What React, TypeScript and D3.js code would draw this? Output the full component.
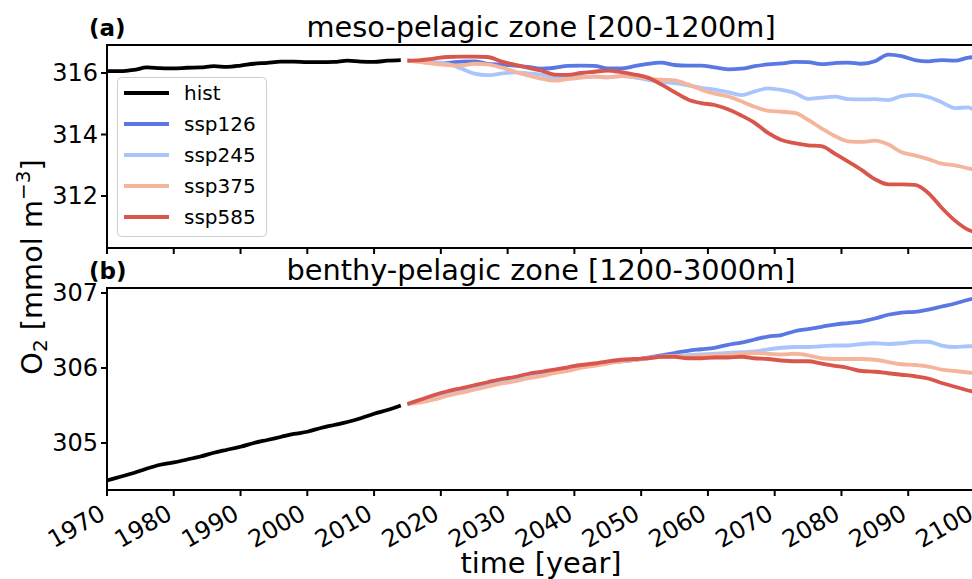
import React from "react";
import * as d3 from "d3";

const W = 972;
const H = 579;

const histYears = d3.range(1970, 2015, 2);
const scenYears = d3.range(2015, 2100, 2).concat([2100]);

const mesoHist = [316.06, 316.06, 316.10, 316.18, 316.16, 316.15, 316.17, 316.18, 316.22, 316.20, 316.24, 316.30, 316.33, 316.37, 316.37, 316.35, 316.35, 316.36, 316.40, 316.37, 316.36, 316.40, 316.42];
const mesoSsp126 = [316.40, 316.38, 316.33, 316.33, 316.37, 316.38, 316.30, 316.27, 316.24, 316.20, 316.14, 316.17, 316.23, 316.24, 316.23, 316.15, 316.15, 316.22, 316.30, 316.34, 316.26, 316.24, 316.24, 316.18, 316.12, 316.14, 316.22, 316.28, 316.31, 316.36, 316.35, 316.29, 316.32, 316.34, 316.30, 316.38, 316.60, 316.55, 316.42, 316.38, 316.42, 316.40, 316.50, 316.52];
const mesoSsp245 = [316.40, 316.37, 316.35, 316.30, 316.15, 315.98, 315.93, 315.98, 316.02, 315.99, 315.95, 315.85, 315.84, 315.87, 315.88, 315.86, 315.90, 315.86, 315.78, 315.72, 315.67, 315.60, 315.52, 315.46, 315.38, 315.28, 315.40, 315.50, 315.45, 315.35, 315.16, 315.20, 315.23, 315.15, 315.14, 315.15, 315.12, 315.25, 315.29, 315.22, 315.05, 314.86, 314.88, 314.76];
const mesoSsp375 = [316.40, 316.35, 316.30, 316.26, 316.24, 316.30, 316.28, 316.18, 316.05, 315.92, 315.82, 315.75, 315.80, 315.85, 315.88, 315.86, 315.90, 315.88, 315.82, 315.78, 315.76, 315.63, 315.46, 315.33, 315.24, 315.08, 314.90, 314.77, 314.74, 314.70, 314.48, 314.20, 313.95, 313.78, 313.76, 313.80, 313.68, 313.42, 313.32, 313.20, 313.05, 313.00, 312.90, 312.85];
const mesoSsp585 = [316.40, 316.42, 316.47, 316.52, 316.53, 316.53, 316.52, 316.38, 316.27, 316.17, 316.08, 315.95, 315.94, 316.00, 316.04, 316.08, 316.03, 315.95, 315.85, 315.63, 315.38, 315.14, 315.02, 314.96, 314.82, 314.62, 314.38, 314.05, 313.82, 313.72, 313.65, 313.62, 313.38, 313.12, 312.85, 312.55, 312.38, 312.38, 312.36, 312.10, 311.62, 311.20, 310.90, 310.82];

const benthHist = [304.50, 304.55, 304.60, 304.66, 304.71, 304.74, 304.78, 304.82, 304.87, 304.91, 304.95, 305.00, 305.04, 305.08, 305.12, 305.15, 305.20, 305.24, 305.28, 305.33, 305.39, 305.44, 305.50];
const benthSsp126 = [305.52, 305.57, 305.62, 305.67, 305.71, 305.75, 305.79, 305.83, 305.86, 305.90, 305.93, 305.96, 305.99, 306.02, 306.04, 306.07, 306.09, 306.11, 306.14, 306.17, 306.20, 306.23, 306.25, 306.27, 306.31, 306.34, 306.38, 306.42, 306.44, 306.49, 306.52, 306.55, 306.58, 306.60, 306.62, 306.66, 306.71, 306.74, 306.75, 306.78, 306.82, 306.86, 306.91, 306.93];
const benthSsp245 = [305.52, 305.56, 305.61, 305.66, 305.70, 305.74, 305.78, 305.82, 305.85, 305.89, 305.92, 305.96, 305.99, 306.02, 306.04, 306.07, 306.09, 306.11, 306.13, 306.15, 306.16, 306.17, 306.18, 306.19, 306.20, 306.21, 306.22, 306.25, 306.27, 306.28, 306.28, 306.29, 306.30, 306.30, 306.32, 306.33, 306.32, 306.33, 306.35, 306.35, 306.30, 306.28, 306.29, 306.29];
const benthSsp375 = [305.52, 305.54, 305.58, 305.63, 305.67, 305.71, 305.75, 305.79, 305.82, 305.86, 305.89, 305.93, 305.96, 306.00, 306.03, 306.06, 306.09, 306.11, 306.13, 306.15, 306.16, 306.15, 306.16, 306.17, 306.17, 306.19, 306.20, 306.19, 306.18, 306.19, 306.17, 306.13, 306.12, 306.12, 306.12, 306.11, 306.08, 306.05, 306.04, 306.02, 305.98, 305.96, 305.94, 305.93];
const benthSsp585 = [305.52, 305.58, 305.64, 305.69, 305.73, 305.77, 305.81, 305.85, 305.88, 305.92, 305.95, 305.98, 306.01, 306.04, 306.06, 306.09, 306.11, 306.12, 306.13, 306.15, 306.15, 306.13, 306.13, 306.14, 306.14, 306.15, 306.13, 306.12, 306.10, 306.09, 306.09, 306.06, 306.03, 306.00, 305.96, 305.95, 305.93, 305.91, 305.89, 305.86, 305.80, 305.75, 305.70, 305.68];

const seriesNames = ["hist", "ssp126", "ssp245", "ssp375", "ssp585"];
const seriesColors = ["#000000", "#5a78e4", "#a9c6fc", "#f5b59c", "#d8564b"];

const xTicks = d3.range(1970, 2101, 10);
const mesoTicks = [312, 314, 316];
const benthTicks = [305, 306, 307];

const FONT = "DejaVu Sans, sans-serif";

const x = d3.scaleLinear().domain([1970, 2100]).range([107, 975]);

type PanelProps = {
  top: number;
  bottom: number;
  domain: [number, number];
  ticks: number[];
  hist: number[];
  scen: number[][];
  title: string;
  letter: string;
  showXLabels: boolean;
  showLegend: boolean;
};

function Panel(p: PanelProps) {
  const y = d3.scaleLinear().domain(p.domain).range([p.bottom, p.top]);
  const line = d3
    .line<[number, number]>()
    .x((d) => x(d[0]))
    .y((d) => y(d[1]))
    .curve(d3.curveMonotoneX);
  const clipId = "clip-" + p.letter.replace(/[()]/g, "");
  return (
    <g>
      <defs>
        <clipPath id={clipId}>
          <rect x={107} y={p.top} width={975 - 107} height={p.bottom - p.top} />
        </clipPath>
      </defs>
      <g clipPath={`url(#${clipId})`} fill="none" strokeWidth={3.8} strokeLinejoin="round">
        <path d={line(histYears.map((yr, i) => [yr, p.hist[i]]) as any) || ""} stroke={seriesColors[0]} />
        {p.scen.map((vals, k) => (
          <path
            key={k}
            d={line(scenYears.map((yr, i) => [yr, vals[i]]) as any) || ""}
            stroke={seriesColors[k + 1]}
          />
        ))}
      </g>
      <rect x={107} y={p.top} width={975 - 107} height={p.bottom - p.top} fill="none" stroke="#000" strokeWidth={2} />
      {xTicks.map((t) => (
        <line key={t} x1={x(t)} x2={x(t)} y1={p.bottom} y2={p.bottom + 6} stroke="#000" strokeWidth={2} />
      ))}
      {p.ticks.map((t) => (
        <g key={t}>
          <line x1={107} x2={101} y1={y(t)} y2={y(t)} stroke="#000" strokeWidth={2} />
          <text x={98} y={y(t)} textAnchor="end" dominantBaseline="central" fontSize={24} fontFamily={FONT}>
            {t}
          </text>
        </g>
      ))}
      {p.showXLabels &&
        xTicks.map((t) => (
          <text
            key={t}
            transform={`translate(${x(t)},${p.bottom + 28}) rotate(-30)`}
            textAnchor="end"
            fontSize={24}
            fontFamily={FONT}
          >
            {t}
          </text>
        ))}
      <text x={541} y={p.top - 8} textAnchor="middle" fontSize={28.8} fontFamily={FONT}>
        {p.title}
      </text>
      <text x={89} y={p.top - 9} fontSize={23} fontWeight="bold" fontFamily={FONT}>
        {p.letter}
      </text>
      {p.showLegend && (
        <g>
          <rect x={117.5} y={77.5} width={149} height={159} rx={4} fill="#fff" fillOpacity={0.8} stroke="#cccccc" strokeWidth={1} />
          {seriesNames.map((n, i) => (
            <g key={n}>
              <line x1={124} x2={169} y1={93 + i * 31} y2={93 + i * 31} stroke={seriesColors[i]} strokeWidth={3.8} />
              <text x={184} y={93 + i * 31} dominantBaseline="central" fontSize={20} fontFamily={FONT}>
                {n}
              </text>
            </g>
          ))}
        </g>
      )}
    </g>
  );
}

export default function App() {
  return (
    <svg width={W} height={H} style={{ position: "absolute", left: 0, top: 0, background: "#fff" }}>
      <rect width={W} height={H} fill="#fff" />
      <Panel
        top={45}
        bottom={248}
        domain={[310.31, 316.91]}
        ticks={mesoTicks}
        hist={mesoHist}
        scen={[mesoSsp126, mesoSsp245, mesoSsp375, mesoSsp585]}
        title="meso-pelagic zone [200-1200m]"
        letter="(a)"
        showXLabels={false}
        showLegend={true}
      />
      <Panel
        top={288}
        bottom={490}
        domain={[304.373, 307.067]}
        ticks={benthTicks}
        hist={benthHist}
        scen={[benthSsp126, benthSsp245, benthSsp375, benthSsp585]}
        title="benthy-pelagic zone [1200-3000m]"
        letter="(b)"
        showXLabels={true}
        showLegend={false}
      />
      <text
        transform="translate(42,267) rotate(-90)"
        textAnchor="middle"
        fontSize={28.8}
        fontFamily={FONT}
      >
        O<tspan fontSize={20} dy={5}>2</tspan>
        <tspan dy={-5}> [mmol m</tspan>
        <tspan fontSize={20} dy={-12}>−3</tspan>
        <tspan dy={12}>]</tspan>
      </text>
      <text x={541} y={573} textAnchor="middle" fontSize={28.8} fontFamily={FONT}>
        time [year]
      </text>
    </svg>
  );
}
